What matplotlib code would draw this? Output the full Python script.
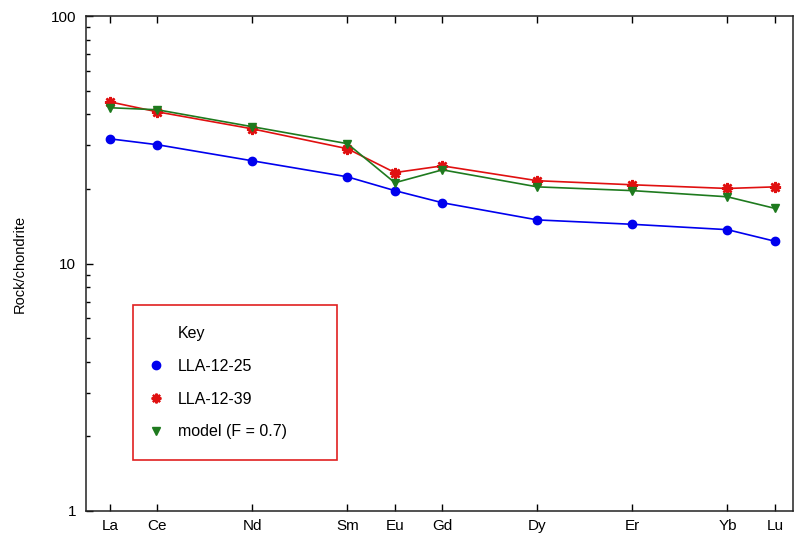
import matplotlib.pyplot as plt
from matplotlib.lines import Line2D
from matplotlib.ticker import LogLocator, FixedLocator, NullFormatter, FuncFormatter

plt.rcParams['font.family'] = ['Liberation Sans', 'DejaVu Sans']

# Elementos (posicion segun numero atomico)
elementos = ["La", "Ce", "Nd", "Sm", "Eu", "Gd", "Dy", "Er", "Yb", "Lu"]
numero_atomico = [57, 58, 60, 62, 63, 64, 66, 68, 70, 71]

# Valores normalizados a condrita
lla_12_25 = [31.9, 30.2, 26.0, 22.4, 19.7, 17.6, 15.0, 14.4, 13.7, 12.3]
lla_12_39 = [45.0, 41.0, 35.0, 29.1, 23.3, 24.8, 21.6, 20.8, 20.1, 20.4]
modelo = [42.6, 41.8, 35.7, 30.5, 21.2, 23.9, 20.4, 19.7, 18.6, 16.7]

fig = plt.figure(figsize=(7.94, 5.36), dpi=100)
ax = fig.add_axes([86 / 794, 25 / 536, 707 / 794, 495 / 536])

ax.plot(numero_atomico, lla_12_25, color="#0000ee", lw=1.2, marker="o", ms=6)
ax.plot(numero_atomico, lla_12_39, color="#e01010", lw=1.2, marker=(8, 2, 0), ms=8, mew=1.8)
ax.plot(numero_atomico, modelo, color="#1e7a1e", lw=1.2, marker="v", ms=5.5)

ax.set_yscale("log")
ax.set_ylim(1, 100)
ax.set_xlim(56.5, 71.38)
ax.yaxis.set_major_locator(FixedLocator([1, 10, 100]))
ax.yaxis.set_major_formatter(FuncFormatter(lambda v, p: "%d" % v))
ax.yaxis.set_minor_locator(LogLocator(base=10, subs=range(2, 10)))
ax.yaxis.set_minor_formatter(NullFormatter())
ax.set_xticks(numero_atomico)
ax.set_xticklabels(elementos)

ax.tick_params(axis="x", which="both", direction="in", top=True, length=5, width=1,
               labelsize=11, pad=6)
ax.tick_params(axis="y", which="major", direction="in", length=5, width=1, labelsize=11, pad=7)
ax.tick_params(axis="y", which="minor", direction="in", length=3, width=1)
for s in ax.spines.values():
    s.set_linewidth(1.1)
    s.set_color("#222222")

ax.set_ylabel("Rock/chondrite", fontsize=10.5, labelpad=17)

# Leyenda
handles = [
    Line2D([], [], linestyle="none", marker=None),
    Line2D([], [], linestyle="none", color="#0000ee", marker="o", ms=6),
    Line2D([], [], linestyle="none", color="#e01010", marker=(8, 2, 0), ms=7, mew=1.6),
    Line2D([], [], linestyle="none", color="#1e7a1e", marker="v", ms=5.5),
]
etiquetas = ["Key", "LLA-12-25", "LLA-12-39", "model (F = 0.7)"]
leg = fig.legend(handles, etiquetas, loc="upper left",
                 bbox_to_anchor=(133 / 794, 1 - 305 / 536, 204 / 794, 0),
                 mode="expand", fontsize=11.5, frameon=True, fancybox=False,
                 borderpad=1.3, labelspacing=1.12, handlelength=0.3,
                 handletextpad=1.2, borderaxespad=0)
leg.get_frame().set_edgecolor("#e02020")
leg.get_frame().set_linewidth(1.2)
leg.get_frame().set_alpha(1)

plt.savefig("out.png", dpi=100)
